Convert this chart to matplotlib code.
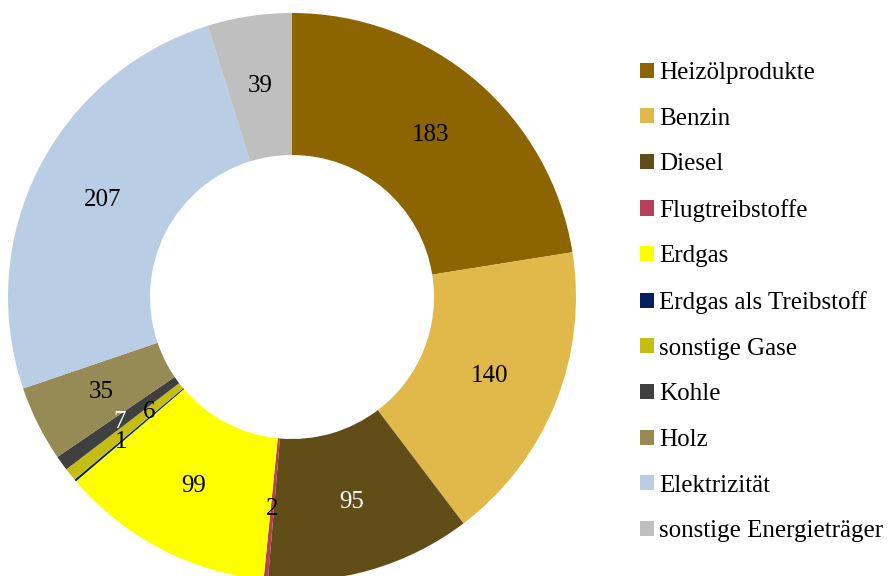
import numpy as np
import matplotlib.pyplot as plt
from matplotlib.patches import Patch

labels = ["Heizölprodukte", "Benzin", "Diesel", "Flugtreibstoffe", "Erdgas",
          "Erdgas als Treibstoff", "sonstige Gase", "Kohle", "Holz",
          "Elektrizität", "sonstige Energieträger"]
values = [183, 140, 95, 2, 99, 1, 6, 7, 35, 207, 39]
colors = ["#8c6400", "#e1b94a", "#604d18", "#b4415a", "#ffff00", "#002060",
          "#c4bd12", "#404040", "#968a55", "#b9cde5", "#bfbfbf"]
text_colors = ["black", "black", "white", "black", "black", "black",
               "black", "white", "black", "black", "black"]

plt.rcParams['font.family'] = ['Liberation Serif', 'DejaVu Serif']

fig = plt.figure(figsize=(8.91, 5.76), dpi=100)
ax = fig.add_axes([8 / 891, -5 / 576, 568 / 891, 568 / 576])

wedges, _ = ax.pie(values, colors=colors, startangle=90, counterclock=False,
                   radius=1.0, wedgeprops=dict(width=0.5, linewidth=0))

# labels at the ring's middle; the tiny slices were moved a bit in the original
label_r = {6: 0.645, 1: 0.79}
total = sum(values)
cum = np.cumsum([0] + values)
for i, v in enumerate(values):
    mid = (cum[i] + v / 2) / total * 2 * np.pi
    r = label_r.get(v, 0.75)
    ax.text(r * np.sin(mid), r * np.cos(mid), str(v), ha='center', va='center',
            fontsize=18, color=text_colors[i])

ax.set_xlim(-1, 1)
ax.set_ylim(-1, 1)
ax.set_aspect('equal')
ax.axis('off')

handles = [Patch(facecolor=c, edgecolor='none') for c in colors]
fig.legend(handles, labels, loc='upper left', bbox_to_anchor=(630 / 891, 1 - 52 / 576),
           frameon=False, fontsize=18, handlelength=0.55, handleheight=0.55,
           handletextpad=0.22, labelspacing=0.945, borderaxespad=0)

fig.savefig("out.png", dpi=100)
